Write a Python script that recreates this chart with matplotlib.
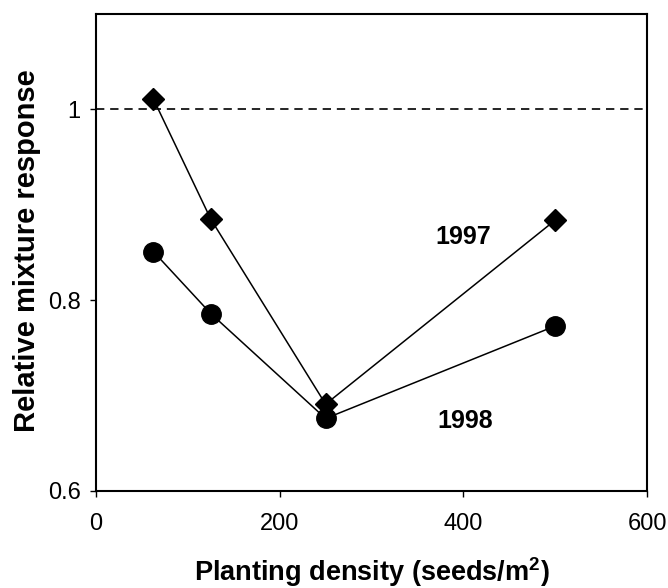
import matplotlib.pyplot as plt

plt.rcParams['font.family'] = ['Liberation Sans', 'DejaVu Sans']
plt.rcParams['mathtext.fontset'] = 'custom'
plt.rcParams['mathtext.bf'] = 'Liberation Sans:bold'
plt.rcParams['mathtext.rm'] = 'Liberation Sans'

# planting density (seeds/m2)
density = [62.5, 125, 250, 500]
resp_1997 = [1.011, 0.885, 0.691, 0.884]
resp_1998 = [0.851, 0.786, 0.676, 0.773]

fig = plt.figure(figsize=(6.68, 5.88), dpi=100)
ax = fig.add_axes([0.1437, 0.165, 0.825, 0.811])

ax.plot([0, 600], [1, 1], color='black', linestyle=(0, (5, 3.5)), linewidth=1.2)
ax.plot(density, resp_1997, color='black', linewidth=1.1, marker='D', markersize=11)
ax.plot(density, resp_1998, color='black', linewidth=1.1, marker='o', markersize=14)

ax.text(400, 0.866, '1997', fontsize=18, fontweight='bold', ha='center', va='center')
ax.text(402, 0.673, '1998', fontsize=18, fontweight='bold', ha='center', va='center')

ax.set_xlim(0, 600)
ax.set_ylim(0.6, 1.1)
ax.set_xticks([0, 200, 400, 600])
ax.set_yticks([0.6, 0.8, 1.0])
ax.set_yticklabels(['0.6', '0.8', '1'])
ax.tick_params(direction='out', length=4, width=1, labelsize=17)
ax.tick_params(axis='x', pad=12)
ax.tick_params(axis='y', pad=7)
for s in ax.spines.values():
    s.set_linewidth(1.5)

ax.set_xlabel(r'Planting density (seeds/m$^\mathbf{2}$)', fontsize=19.5, fontweight='bold')
ax.set_ylabel('Relative mixture response', fontsize=21, fontweight='bold')
ax.xaxis.set_label_coords(0.5, -0.135)
ax.yaxis.set_label_coords(-0.10, 0.505)

fig.savefig('out.png', dpi=100)
